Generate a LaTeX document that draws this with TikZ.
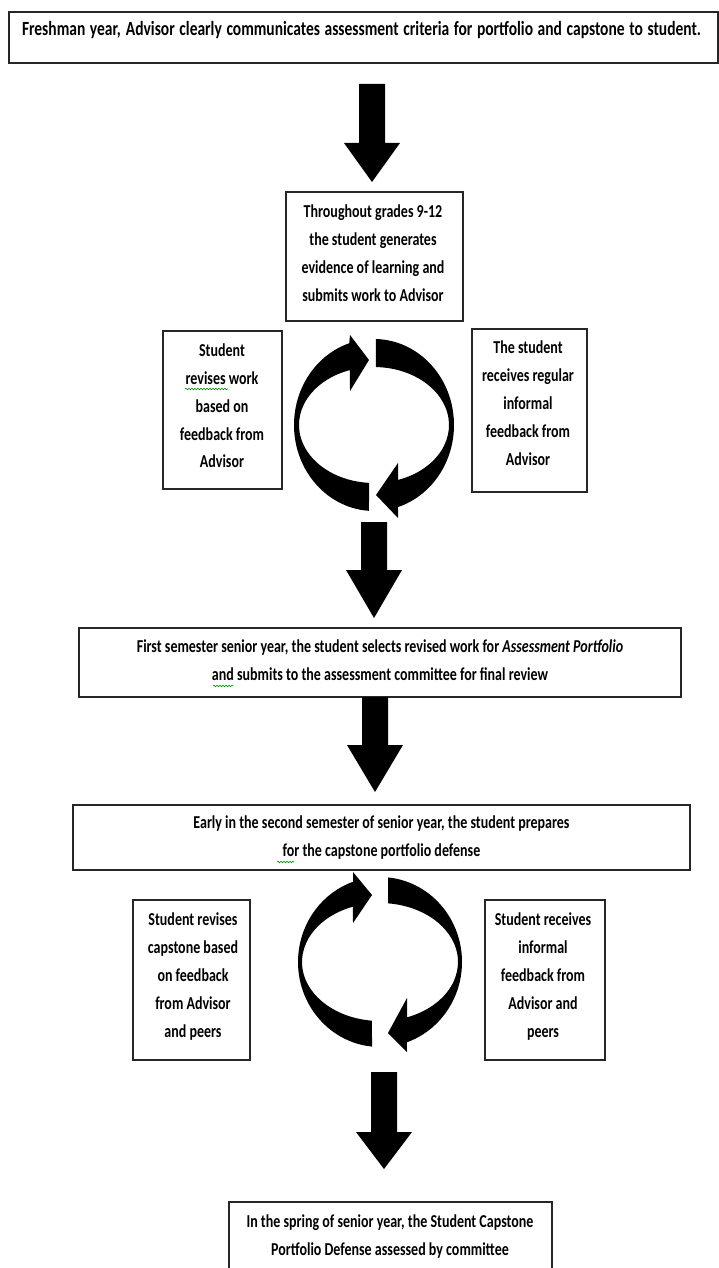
\documentclass[tikz,border=0pt]{standalone}
\usepackage{fontspec}
\setmainfont{Carlito}
\usepackage{graphicx}
\usetikzlibrary{calc,decorations.pathmorphing}

% centred block of lines, set slightly tall and narrow
\newcommand\lines[1]{\scalebox{1}[1.3]{\begin{tabular}{@{}c@{}}#1\end{tabular}}}

\tikzset{
  box/.style={draw=black!85, line width=1.4pt, inner sep=0pt, outer sep=0pt},
  txt/.style={inner sep=0pt, font=\bfseries\fontsize{14}{21.5}\selectfont},
  % thick downward block arrow from start to tip; #1 = head length
  blk/.style={fill=black, draw=none, to path={
      let \p1=(\tikztostart), \p2=(\tikztotarget) in
      (\x1-13pt,\y1) -- (\x1+13pt,\y1) -- (\x1+13pt,\y2+#1pt) -- (\x1+28pt,\y2+#1pt)
      -- (\x1,\y2) -- (\x1-28pt,\y2+#1pt) -- (\x1-13pt,\y2+#1pt) -- cycle}},
  cyc/.style={fill=black, draw=none},
  squig/.style={draw=green!55!black, line width=0.6pt,
      decorate, decoration={snake, segment length=3pt, amplitude=0.8pt}}
}

\begin{document}
\begin{tikzpicture}[x=1pt, y=1pt]
\useasboundingbox (0,0) rectangle (719,-1268);
\fill[white] (0,0) rectangle (719,-1268);
\clip (0,0) rectangle (719,-1268);

% ---------- boxes ----------
\node[box, minimum width=709, minimum height=51]  (b1)  at (363.5,-37.5) {};
\node[box, minimum width=177, minimum height=129] (b2)  at (374.5,-256.5) {};
\node[box, minimum width=119, minimum height=158] (bl1) at (222.5,-410) {};
\node[box, minimum width=115, minimum height=163] (br1) at (529.5,-410.5) {};
\node[box, minimum width=602, minimum height=69]  (b3)  at (380,-662.5) {};
\node[box, minimum width=617, minimum height=65]  (b4)  at (381.5,-837.5) {};
\node[box, minimum width=117, minimum height=160] (bl2) at (191.5,-980) {};
\node[box, minimum width=120, minimum height=160] (br2) at (545,-980) {};
\node[box, minimum width=323, minimum height=88]  (b5)  at (390.5,-1246) {};

% ---------- texts ----------
\node[txt, font=\bfseries\fontsize{15.5}{21.5}\selectfont] (t1) at (361.5,-30)
  {\lines{\makebox[679pt][s]{Freshman year, Advisor clearly communicates assessment criteria for portfolio and capstone to student.}}};
\node[txt] (t2) at (373,-254) {\lines{Throughout grades 9-12\\the student generates\\evidence of learning and\\submits work to Advisor}};
\node[txt] (tl1) at (222,-406.5) {\lines{Student\\revises work\\based on\\feedback from\\Advisor}};
\node[txt] (tr1) at (528,-404) {\lines{The student\\receives regular\\informal\\feedback from\\Advisor}};
\node[txt] (t3) at (380,-660.5) {\lines{First semester senior year, the student selects revised work for \textit{Assessment Portfolio}\\and submits to the assessment committee for final review}};
\node[txt] (t4) at (381.5,-836.5) {\lines{Early in the second semester of senior year, the student prepares\\for the capstone portfolio defense}};
\node[txt] (tl2) at (193,-976) {\lines{Student revises\\capstone based\\on feedback\\from Advisor\\and peers}};
\node[txt] (tr2) at (543,-976) {\lines{Student receives\\informal\\feedback from\\Advisor and\\peers}};
\node[txt] (t5) at (390,-1236) {\lines{In the spring of senior year, the Student Capstone\\Portfolio Defense assessed by committee}};

% spell-check marks
\draw[squig] (185,-389) -- (228,-389);
\draw[squig] (213,-686) -- (233,-686);
\draw[squig] (277,-862) -- (294,-862);

% ---------- block arrows ----------
\coordinate (a1s) at (372,-84);   \coordinate (a1e) at (372,-182);
\coordinate (a2s) at (374,-522);  \coordinate (a2e) at (374,-618);
\coordinate (a3s) at (375,-697);  \coordinate (a3e) at (375,-792);
\coordinate (a4s) at (384,-1072); \coordinate (a4e) at (384,-1169);
\draw[blk=39] (a1s) to (a1e);
\draw[blk=48] (a2s) to (a2e);
\draw[blk=47] (a3s) to (a3e);
\draw[blk=37] (a4s) to (a4e);

% ---------- first cycle ----------
\coordinate (c1) at (374,-425);
\fill[cyc] (c1) ++(266.4:80 and 86)
  arc[start angle=266.4, end angle=108, x radius=80, y radius=86]
  -- ($(c1)+(-24,90)$) -- ($(c1)+(-5,65)$) -- ($(c1)+(-24,34)$)
  -- ($(c1)+(108.7:75 and 58)$)
  arc[start angle=108.7, end angle=266.2, x radius=75, y radius=58] -- cycle;
\fill[cyc] (c1) ++(88.6:80 and 86)
  arc[start angle=88.6, end angle=-72.5, x radius=80, y radius=86]
  -- ($(c1)+(24,-93)$) -- ($(c1)+(2,-70)$) -- ($(c1)+(24,-38)$)
  -- ($(c1)+(-71.3:75 and 58)$)
  arc[start angle=-71.3, end angle=88.5, x radius=75, y radius=58] -- cycle;

% ---------- second cycle ----------
\coordinate (c2) at (380,-962);
\fill[cyc] (c2) ++(264.4:82 and 85)
  arc[start angle=264.4, end angle=109.2, x radius=82, y radius=85]
  -- ($(c2)+(-27,90)$) -- ($(c2)+(-8,67)$) -- ($(c2)+(-27,39)$)
  -- ($(c2)+(110.3:78 and 59)$)
  arc[start angle=110.3, end angle=264.1, x radius=78, y radius=59] -- cycle;
\fill[cyc] (c2) ++(84.4:82 and 85)
  arc[start angle=84.4, end angle=-70.8, x radius=82, y radius=85]
  -- ($(c2)+(27,-90)$) -- ($(c2)+(8,-71)$) -- ($(c2)+(27,-36)$)
  -- ($(c2)+(-69.7:78 and 59)$)
  arc[start angle=-69.7, end angle=84.1, x radius=78, y radius=59] -- cycle;
\end{tikzpicture}
\end{document}
